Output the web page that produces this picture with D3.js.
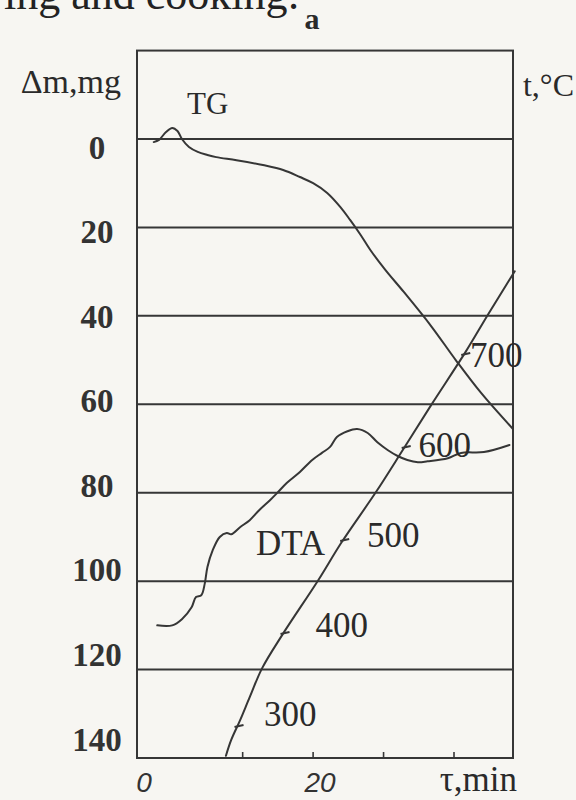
<!DOCTYPE html>
<html><head><meta charset="utf-8">
<script src="https://cdn.jsdelivr.net/npm/d3@7"></script>
<style>
html,body{margin:0;padding:0;background:#f7f6f2;}
svg{display:block;}
</style></head><body>
<svg id="c" width="576" height="800"></svg>
<script>
// ---- data ----
const massTicks = [0, 20, 40, 60, 80, 100, 120, 140];
const gridValues = [0, 20, 40, 60, 80, 100, 120];
const timeTickLabels = [0, 20];
const timeTickMarks = [12, 20, 28, 36];
const tempLabels = [300, 400, 500, 600, 700];

// TG curve: time (min) vs mass loss (mg)
const tgTime = [1.9, 2.5, 3.3, 4.0, 4.6, 5.1, 5.9, 6.9, 8.0, 9.0, 11.3, 14.3, 16.6, 18.5, 20.0, 21.6, 23.1, 24.2, 25.4, 26.5, 28.2, 30.3, 33.4, 36.2, 39.1, 42.7];
const tgMass = [0.7, 0.2, -1.6, -2.5, -1.8, 0, 1.8, 2.9, 3.6, 4.1, 4.8, 5.9, 7.0, 8.6, 10.0, 12.2, 15.4, 18.3, 21.7, 25.1, 29.6, 34.6, 42.3, 50.0, 57.5, 65.6];

// DTA curve: time (min) vs signal (plotted on the mass grid)
const dtaTime = [2.3, 4.0, 5.1, 6.2, 6.7, 7.3, 7.7, 8.0, 8.6, 9.4, 10.2, 10.7, 11.7, 12.8, 13.9, 15.1, 15.9, 17.0, 18.5, 19.9, 21.0, 21.9, 22.7, 23.9, 25.0, 26.2, 27.3, 28.5, 29.6, 30.7, 31.9, 33.0, 35.3, 36.8, 39.4, 42.3];
const dtaSignal = [110.0, 110.0, 108.6, 105.9, 103.6, 103.2, 100.5, 96.8, 93.0, 90.0, 89.1, 89.4, 87.8, 86.2, 83.9, 81.7, 80.1, 77.8, 75.3, 72.6, 71.0, 69.7, 67.4, 66.1, 65.6, 66.5, 68.6, 70.4, 71.7, 72.6, 73.1, 72.9, 72.2, 71.0, 70.8, 69.2];

// Temperature curve: time (min) vs t (°C)
const tempTime = [10.1, 10.7, 11.7, 12.8, 14.2, 16.5, 20.6, 23.2, 27.1, 30.2, 33.4, 37.3, 39.9, 42.9];
const tempValue = [268, 285, 306, 331, 362, 398, 457, 497, 551, 597, 645, 702, 743, 789];

(function () {
const svg = d3.select("#c");
const ink = "#363636";
const serif = "'Liberation Serif','DejaVu Serif',serif";

const x = d3.scaleLinear().domain([0, 42.7]).range([137, 513]);
const yGrid = d3.scaleLinear().domain([0, 140]).range([139, 758]);
const yLabel = d3.scaleLinear().domain([0, 140]).range([147, 739]);
const yTemp = d3.scaleLinear().domain([300, 700]).range([726, 354]);
// label placement along the temperature curve
const tempLabelX = d3.scaleLinear().domain([300, 700]).range([264, 470]);
const tempLabelY = d3.scaleLinear().domain([300, 700]).range([714, 355]);

const pLeft = x(0), pRight = x(42.7), pTop = yGrid(-20), pBottom = yGrid(140);

// page text fragment above
svg.append("text").attr("x", 4).attr("y", 9)
  .attr("font-family", serif).attr("font-size", 44).attr("fill", "#222")
  .text("ing and cooking:");
svg.append("text").attr("x", 312).attr("y", 18).attr("dy", "0.35em")
  .attr("text-anchor", "middle").attr("font-family", serif).attr("font-weight", "bold")
  .attr("font-size", 30).attr("fill", "#2a2a2a").text("a");

// frame
const frame = svg.append("g").attr("stroke", ink).attr("stroke-width", 2).attr("fill", "none");
frame.append("rect").attr("x", pLeft).attr("y", pTop).attr("width", pRight - pLeft).attr("height", pBottom - pTop);

// horizontal grid lines
frame.selectAll("line.grid").data(gridValues).join("line").attr("class", "grid")
  .attr("x1", pLeft).attr("x2", pRight)
  .attr("y1", d => yGrid(d)).attr("y2", d => yGrid(d));

// x tick marks
frame.selectAll("line.xt").data(timeTickMarks).join("line").attr("class", "xt")
  .attr("x1", d => x(d)).attr("x2", d => x(d))
  .attr("y1", pBottom).attr("y2", pBottom - 6).attr("stroke-width", 1.6);

// left axis labels
svg.append("g").selectAll("text").data(massTicks).join("text")
  .attr("x", 97).attr("y", d => yLabel(d)).attr("dy", "0.35em")
  .attr("text-anchor", "middle").attr("font-family", serif).attr("font-weight", "bold")
  .attr("font-size", 33).attr("fill", "#333").text(d => d);

// x labels
svg.append("g").selectAll("text").data(timeTickLabels).join("text")
  .attr("x", d => x(d) + 7).attr("y", 782).attr("dy", "0.35em")
  .attr("text-anchor", "middle").attr("font-family", "'Liberation Sans',sans-serif")
  .attr("font-style", "italic").attr("font-size", 28).attr("fill", "#333").text(d => d);

// axis titles
const title = (t, xx, yy, size, anchor) => svg.append("text").attr("x", xx).attr("y", yy).attr("dy", "0.35em")
  .attr("text-anchor", anchor || "start")
  .attr("font-family", serif).attr("font-size", size).attr("fill", "#2a2a2a").text(t);
title("Δm,mg", 121, 81, 34, "end");
title("t,°C", 574, 85, 32, "end");
title("τ,min", 517, 779, 35, "end");
title("TG", 187, 103, 31);
title("DTA", 256, 543, 35);

// curves
const lineGen = (xs, ys, yScale) => d3.line().curve(d3.curveCatmullRom.alpha(0.5))
  (xs.map((t, i) => [x(t), yScale(ys[i])]));
const curves = svg.append("g").attr("fill", "none").attr("stroke", ink).attr("stroke-width", 2)
  .attr("stroke-linejoin", "round").attr("stroke-linecap", "round");
curves.append("path").attr("d", lineGen(tgTime, tgMass, yGrid));
curves.append("path").attr("d", lineGen(dtaTime, dtaSignal, yGrid));
curves.append("path").attr("d", lineGen(tempTime, tempValue, yTemp));

// temperature marks on the temperature curve
const timeAtTemp = d3.scaleLinear().domain(tempValue).range(tempTime);
const marks = svg.append("g");
tempLabels.forEach(T => {
  const px = x(timeAtTemp(T)), py = yTemp(T);
  marks.append("line").attr("x1", px - 3).attr("x2", px + 6).attr("y1", py + 1).attr("y2", py - 1)
    .attr("stroke", ink).attr("stroke-width", 2);
  marks.append("text").attr("x", tempLabelX(T)).attr("y", tempLabelY(T)).attr("dy", "0.35em")
    .attr("font-family", serif).attr("font-size", 35).attr("fill", "#2a2a2a").text(T);
});
})();
</script>
</body></html>
